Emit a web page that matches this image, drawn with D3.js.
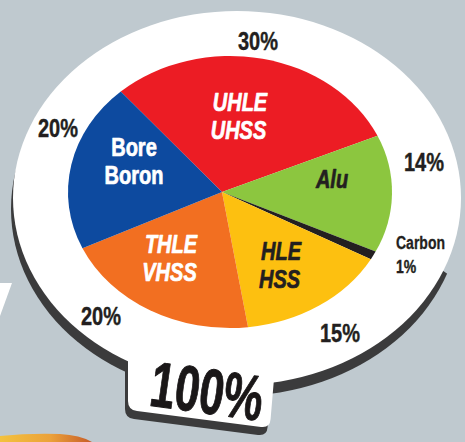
<!DOCTYPE html>
<html>
<head>
<meta charset="utf-8">
<script src="https://cdn.jsdelivr.net/npm/d3@7"></script>
<style>
  html, body { margin: 0; padding: 0; background: #bfc9cf; }
  svg { display: block; }
  text { font-family: "Liberation Sans Narrow", "Liberation Sans", Arial, sans-serif; font-weight: bold; }
</style>
</head>
<body>
<svg id="chart" width="465" height="442"></svg>
<script>
// Material mix of the body structure (share of total, %)
const categories = ["UHLE UHSS", "Alu", "Carbon", "HLE HSS", "THLE VHSS", "Bore Boron"];
const shares = [30, 14, 1, 15, 20, 20];
const innerLines = [["UHLE", "UHSS"], ["Alu"], [], ["HLE", "HSS"], ["THLE", "VHSS"], ["Bore", "Boron"]];
const totalLabel = "100%";

const sliceColors = ["#ec1c24", "#8cc63f", "#231f20", "#fdc010", "#f26f21", "#0d4a9f"];
const innerTextColors = ["#ffffff", "#231f20", "#231f20", "#231f20", "#ffffff", "#ffffff"];
const innerItalic = [true, true, false, true, true, false];

const svg = d3.select("#chart");
const W = 465, H = 442;

svg.append("rect").attr("width", W).attr("height", H).attr("fill", "#bfc9cf");

// condensed lettering: glyphs squeezed to the width of a narrow face
const narrow = 0.8;
function fitText(sel) {
  sel.each(function () {
    const n = this.getComputedTextLength();
    if (n > 0) d3.select(this).attr("textLength", n * narrow).attr("lengthAdjust", "spacingAndGlyphs");
  });
  return sel;
}
// heavier strokes for the display weight
function heavy(sel, color, w) {
  return sel.attr("stroke", color).attr("stroke-width", w).attr("stroke-linejoin", "round");
}

// decorative fragments at the frame edges
const defs = svg.append("defs");
const grad = defs.append("linearGradient").attr("id", "flame").attr("x1", 0).attr("x2", 1);
grad.append("stop").attr("offset", "0%").attr("stop-color", "#f3c23e");
grad.append("stop").attr("offset", "55%").attr("stop-color", "#eba13a");
grad.append("stop").attr("offset", "100%").attr("stop-color", "#c65c28");
svg.append("path")
  .attr("d", "M0,436 Q30,433 60,434 Q80,435 92,442 L0,442 Z")
  .attr("fill", "url(#flame)");
svg.append("path").attr("d", "M0,283 L12,283 L0,316 Z").attr("fill", "#ffffff");

// the disc: dark rim (thickness) first, then white face
const disc = { cx: 237, cy: 198, rx: 224, ry: 187 };
const rimClip = defs.append("clipPath").attr("id", "rimClip");
rimClip.append("path").attr("d", "M0,0 L436,0 L436,266 L465,286 L465,442 L0,442 Z");
svg.append("ellipse")
  .attr("cx", disc.cx - 1).attr("cy", disc.cy + 11)
  .attr("rx", disc.rx + 1).attr("ry", disc.ry)
  .attr("fill", "#3b3b3c")
  .attr("clip-path", "url(#rimClip)");

// tab under the disc holding the total
function tabPath(dx, dy) {
  const r = 9;
  const TL = [128 + dx, 340 + dy], TR = [276 + dx, 355 + dy];
  const BR = [270 + dx, 428 + dy], BL = [128 + dx, 410 + dy];
  return `M${TL}L${TR}` +
    `L${BR[0] + 0.6},${BR[1] - r}Q${BR[0]},${BR[1]} ${BR[0] - r},${BR[1] - 1.1}` +
    `L${BL[0] + r},${BL[1] + 1.1}Q${BL[0]},${BL[1]} ${BL[0]},${BL[1] - r}Z`;
}
svg.append("path").attr("d", tabPath(-3, 8)).attr("fill", "#3b3b3c");

svg.append("ellipse")
  .attr("cx", disc.cx).attr("cy", disc.cy)
  .attr("rx", disc.rx).attr("ry", disc.ry)
  .attr("fill", "#ffffff");

svg.append("path").attr("d", tabPath(0, 0)).attr("fill", "#ffffff");

// pie drawn on a tilted (elliptical) face
const pieGeo = { cx: 230, cy: 192, rx: 162, ry: 136, apexX: 222, apexY: 192 };
const pie = d3.pie().sort(null).value(d => d)
  .startAngle(-42.4 * Math.PI / 180)
  .endAngle((360 - 42.4) * Math.PI / 180);
const arcs = pie(shares);

function rim(a) {
  return [pieGeo.cx + pieGeo.rx * Math.sin(a), pieGeo.cy - pieGeo.ry * Math.cos(a)];
}
function slicePath(d) {
  const p0 = rim(d.startAngle), p1 = rim(d.endAngle);
  const large = (d.endAngle - d.startAngle) > Math.PI ? 1 : 0;
  return `M${pieGeo.apexX},${pieGeo.apexY}L${p0[0]},${p0[1]}` +
    `A${pieGeo.rx},${pieGeo.ry} 0 ${large} 1 ${p1[0]},${p1[1]}Z`;
}

svg.append("g").selectAll("path")
  .data(arcs)
  .join("path")
  .attr("d", slicePath)
  .attr("fill", (d, i) => sliceColors[i]);

// labels inside slices, one text per line
const innerPos = [[240, 111], [332, 188], null, [281, 260], [171, 253], [134, 156]];
const innerSize = 25, innerLead = 28;
arcs.forEach((d, i) => {
  const lines = innerLines[i];
  if (!lines.length) return;
  lines.forEach((ln, k) => {
    const t = svg.append("text")
      .attr("x", innerPos[i][0] - (innerItalic[i] ? k * 1.5 : 0))
      .attr("y", innerPos[i][1] + k * innerLead)
      .attr("text-anchor", "middle")
      .attr("font-size", innerSize)
      .attr("font-style", innerItalic[i] ? "italic" : "normal")
      .attr("fill", innerTextColors[i])
      .text(ln);
    heavy(fitText(t), innerTextColors[i], 0.7);
  });
});

// percentages around the rim
const outerPos = [[258, 50], [424, 171], [396, 273], [340, 342], [101, 325], [58, 137]];
arcs.forEach((d, i) => {
  const isCarbon = categories[i] === "Carbon";
  const t = svg.append("text")
    .attr("x", outerPos[i][0]).attr("y", outerPos[i][1])
    .attr("text-anchor", isCarbon ? "start" : "middle")
    .attr("font-size", isCarbon ? 17.5 : 25)
    .attr("fill", "#231f20")
    .text(d.data + "%");
  heavy(fitText(t), "#231f20", 0.4);
});
heavy(fitText(svg.append("text")
  .attr("x", 396).attr("y", 249)
  .attr("font-size", 17.5)
  .attr("fill", "#231f20")
  .text("Carbon")), "#231f20", 0.3);

// total on the tab
heavy(svg.append("text")
  .attr("transform", "translate(204,413) rotate(8)")
  .attr("text-anchor", "middle")
  .attr("font-size", 64)
  .attr("textLength", 113)
  .attr("lengthAdjust", "spacingAndGlyphs")
  .attr("fill", "#1a1718")
  .text(totalLabel), "#1a1718", 1);
</script>
</body>
</html>
